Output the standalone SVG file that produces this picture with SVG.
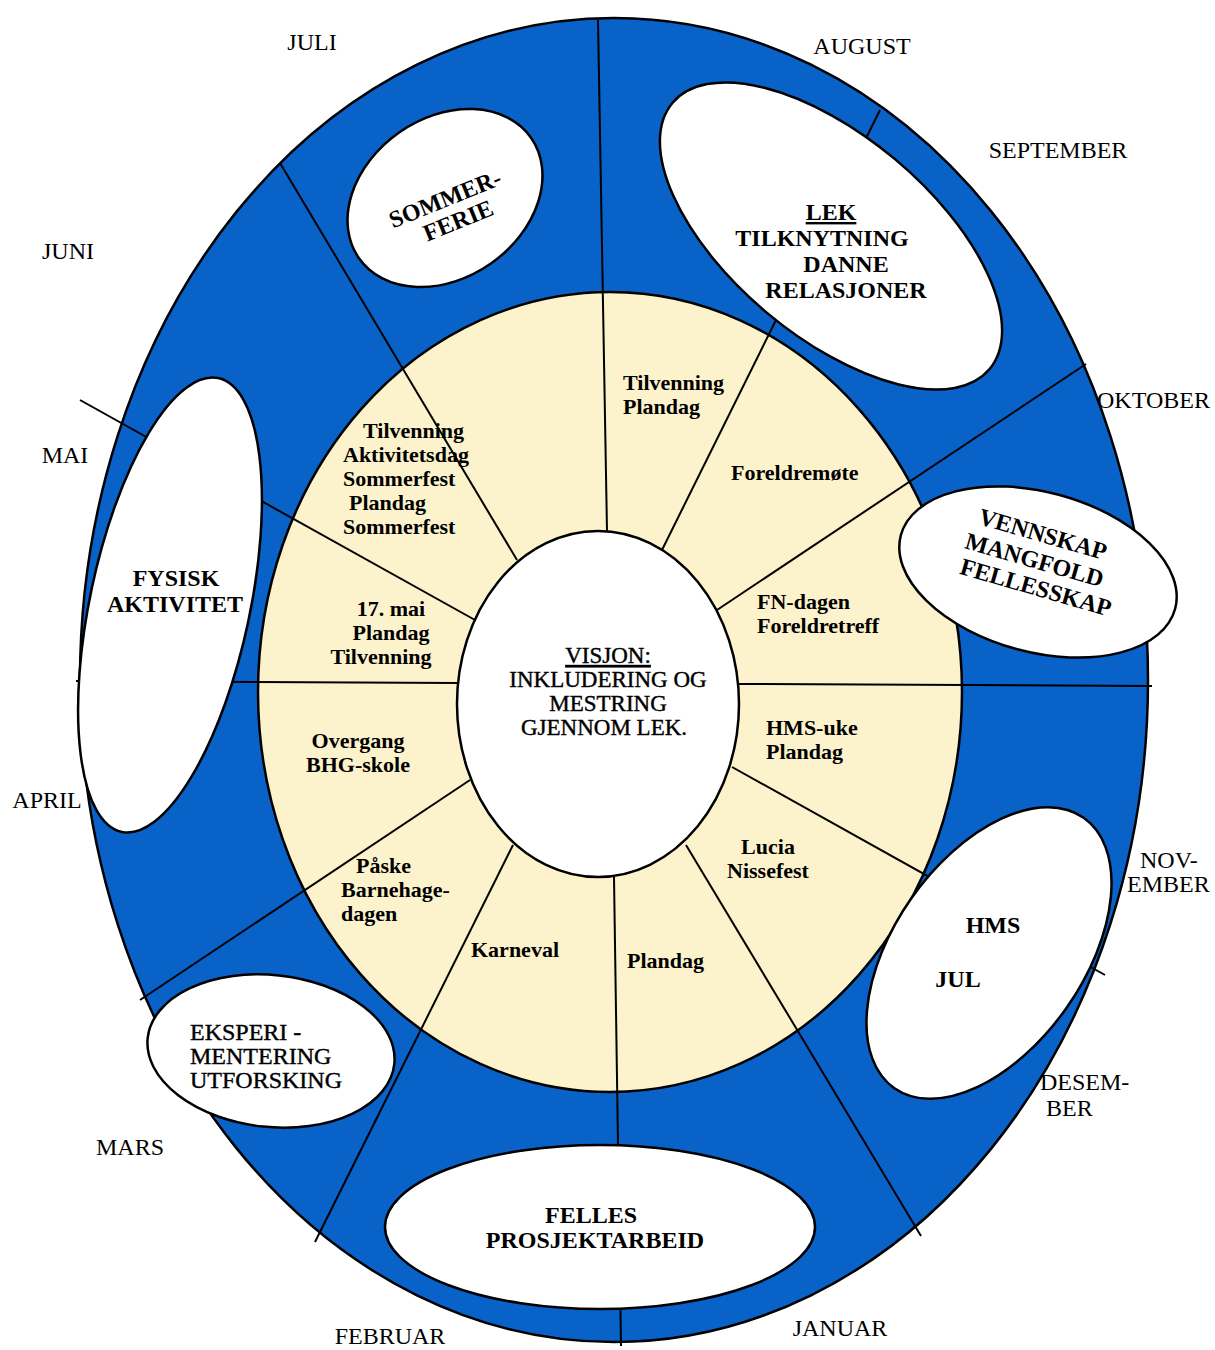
<svg xmlns="http://www.w3.org/2000/svg" width="1215" height="1350" viewBox="0 0 1215 1350">
<style>
  .blue { fill: #0862C8; stroke: #000; stroke-width: 2.5; }
  .cream { fill: #FCF2CC; stroke: #000; stroke-width: 2.5; }
  .white { fill: #fff; stroke: #000; stroke-width: 2.5; }
  .spoke { stroke: #000; stroke-width: 2; fill: none; }
  text { font-family: "Liberation Serif", "Times New Roman", serif; fill: #000; }
  .month { font-size: 24px; }
  .seg { font-size: 22px; font-weight: bold; }
  .big { font-size: 24px; font-weight: bold; }
  .reg { font-size: 24px; stroke: #000; stroke-width: 0.4; }
  .ctr { font-size: 23px; stroke: #000; stroke-width: 0.4; }
  .mid { text-anchor: middle; }
  .ul { text-decoration: underline; }
</style>

<g id="wheel">
  <ellipse class="blue" cx="614" cy="680" rx="534" ry="662"/>
  <ellipse class="cream" cx="610" cy="692" rx="352" ry="400"/>
</g>

<g id="connectors">
  <line class="spoke" x1="598" y1="20" x2="607" y2="531"/>
  <line class="spoke" x1="880" y1="110" x2="662" y2="550"/>
  <line class="spoke" x1="1086" y1="364" x2="717" y2="610"/>
  <line class="spoke" x1="1152" y1="686" x2="739" y2="684"/>
  <line class="spoke" x1="1105" y1="975" x2="732" y2="767"/>
  <line class="spoke" x1="921" y1="1236" x2="686" y2="845"/>
  <line class="spoke" x1="621" y1="1346" x2="614" y2="877"/>
  <line class="spoke" x1="315" y1="1242" x2="513" y2="845"/>
  <line class="spoke" x1="140" y1="1000" x2="470" y2="780"/>
  <line class="spoke" x1="76" y1="681" x2="458" y2="683"/>
  <line class="spoke" x1="80" y1="400" x2="475" y2="620"/>
  <line class="spoke" x1="280" y1="163" x2="517" y2="560"/>
</g>

<g id="node-visjon">
  <ellipse class="white" cx="598" cy="704" rx="141" ry="173" stroke-width="3"/>
  <text class="ctr mid ul" x="608" y="663">VISJON:</text>
  <text class="ctr mid" x="608" y="687">INKLUDERING OG</text>
  <text class="ctr mid" x="608" y="711">MESTRING</text>
  <text class="ctr mid" x="604" y="735">GJENNOM LEK.</text>
</g>

<g id="node-sommerferie">
  <ellipse class="white" cx="445" cy="198" rx="105" ry="80" transform="rotate(-35 445 198)"/>
  <g transform="rotate(-22 452 208)">
    <text class="big mid" x="449" y="205">SOMMER-</text>
    <text class="big mid" x="453" y="230">FERIE</text>
  </g>
</g>

<g id="node-lek">
  <ellipse class="white" cx="831" cy="236" rx="207" ry="100" transform="rotate(40 831 236)"/>
  <text class="big mid ul" x="831" y="220">LEK</text>
  <text class="big mid" x="822" y="246">TILKNYTNING</text>
  <text class="big mid" x="846" y="272">DANNE</text>
  <text class="big mid" x="846" y="298">RELASJONER</text>
</g>

<g id="node-vennskap">
  <ellipse class="white" cx="1038" cy="572" rx="142" ry="80" transform="rotate(15 1038 572)"/>
  <g transform="rotate(16 1038 562)">
    <text class="big mid" x="1035" y="542">VENNSKAP</text>
    <text class="big mid" x="1034" y="569">MANGFOLD</text>
    <text class="big mid" x="1043" y="595">FELLESSKAP</text>
  </g>
</g>

<g id="node-hms">
  <ellipse class="white" cx="989" cy="953" rx="165" ry="95" transform="rotate(-55 989 953)"/>
  <text class="big mid" x="993" y="933">HMS</text>
  <text class="big mid" x="958" y="987">JUL</text>
</g>

<g id="node-felles">
  <ellipse class="white" cx="600" cy="1227" rx="215" ry="82"/>
  <text class="big mid" x="591" y="1223">FELLES</text>
  <text class="big mid" x="595" y="1248">PROSJEKTARBEID</text>
</g>

<g id="node-eksperi">
  <ellipse class="white" cx="271" cy="1051" rx="124" ry="76" transform="rotate(6 271 1051)"/>
  <text class="reg" x="190" y="1040">EKSPERI -</text>
  <text class="reg" x="190" y="1064">MENTERING</text>
  <text class="reg" x="190" y="1088">UTFORSKING</text>
</g>

<g id="node-fysisk">
  <ellipse class="white" cx="170" cy="605" rx="80" ry="232" transform="rotate(12 170 605)"/>
  <text class="big mid" x="176" y="586">FYSISK</text>
  <text class="big mid" x="175" y="612">AKTIVITET</text>
</g>

<g id="seg-august">
  <text class="seg" x="623" y="390">Tilvenning</text>
  <text class="seg" x="623" y="414">Plandag</text>
</g>
<g id="seg-september">
  <text class="seg" x="731" y="480">Foreldremøte</text>
</g>
<g id="seg-oktober">
  <text class="seg" x="757" y="609">FN-dagen</text>
  <text class="seg" x="757" y="633">Foreldretreff</text>
</g>
<g id="seg-november">
  <text class="seg" x="766" y="735">HMS-uke</text>
  <text class="seg" x="766" y="759">Plandag</text>
</g>
<g id="seg-desember">
  <text class="seg mid" x="768" y="854">Lucia</text>
  <text class="seg mid" x="768" y="878">Nissefest</text>
</g>
<g id="seg-januar">
  <text class="seg" x="627" y="968">Plandag</text>
</g>
<g id="seg-februar">
  <text class="seg" x="471" y="957">Karneval</text>
</g>
<g id="seg-mars">
  <text class="seg" x="356" y="873">Påske</text>
  <text class="seg" x="341" y="897">Barnehage-</text>
  <text class="seg" x="341" y="921">dagen</text>
</g>
<g id="seg-april">
  <text class="seg mid" x="358" y="748">Overgang</text>
  <text class="seg mid" x="358" y="772">BHG-skole</text>
</g>
<g id="seg-mai">
  <text class="seg mid" x="391" y="616">17. mai</text>
  <text class="seg mid" x="391" y="640">Plandag</text>
  <text class="seg mid" x="381" y="664">Tilvenning</text>
</g>
<g id="seg-juni">
  <text class="seg" x="363" y="438">Tilvenning</text>
  <text class="seg" x="343" y="462">Aktivitetsdag</text>
  <text class="seg" x="343" y="486">Sommerfest</text>
  <text class="seg" x="349" y="510">Plandag</text>
  <text class="seg" x="343" y="534">Sommerfest</text>
</g>

<g id="months">
  <text class="month mid" x="312" y="50">JULI</text>
  <text class="month mid" x="862" y="54">AUGUST</text>
  <text class="month mid" x="1058" y="158">SEPTEMBER</text>
  <text class="month" x="1097" y="408">OKTOBER</text>
  <text class="month" x="1140" y="868">NOV-</text>
  <text class="month" x="1127" y="892">EMBER</text>
  <text class="month" x="1040" y="1090">DESEM-</text>
  <text class="month" x="1046" y="1116">BER</text>
  <text class="month mid" x="840" y="1336">JANUAR</text>
  <text class="month mid" x="390" y="1344">FEBRUAR</text>
  <text class="month mid" x="130" y="1155">MARS</text>
  <text class="month mid" x="47" y="808">APRIL</text>
  <text class="month mid" x="65" y="463">MAI</text>
  <text class="month mid" x="68" y="259">JUNI</text>
</g>
</svg>
